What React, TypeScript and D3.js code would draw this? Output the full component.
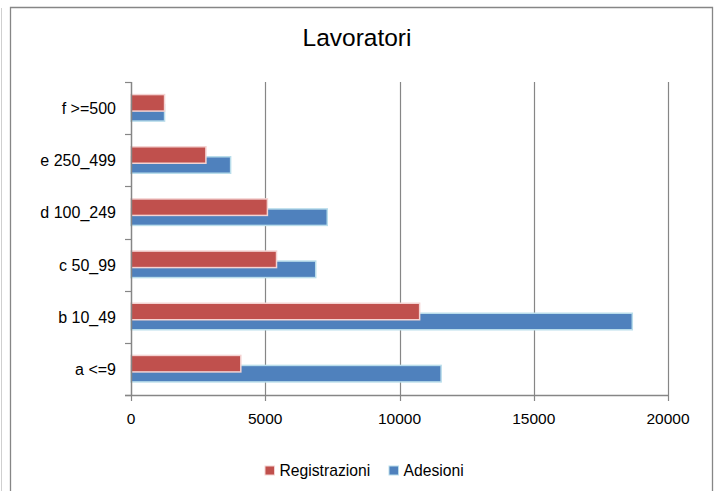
import React, { useEffect, useRef } from 'react';
import * as d3 from 'd3';

const categories = ['a <=9', 'b 10_49', 'c 50_99', 'd 100_249', 'e 250_499', 'f >=500'];
const registrazioni = [4090, 10750, 5420, 5080, 2790, 1250];
const adesioni = [11550, 18670, 6880, 7310, 3710, 1250];
const xTicks = [0, 5000, 10000, 15000, 20000];

const App: React.FC = () => {
  const svgRef = useRef<SVGSVGElement>(null);

  useEffect(() => {
    if (!svgRef.current) return;
    document.body.style.margin = '0';
    document.body.style.overflow = 'hidden';
    const svg = d3.select(svgRef.current);
    svg.selectAll('*').remove();

    const width = 717;
    const height = 491;
    const font = '"Liberation Sans", Arial, sans-serif';
    const axisColor = '#868686';

    svg.attr('width', width).attr('height', height);

    // outer frame
    svg.append('line')
      .attr('x1', 1.5).attr('x2', 1.5).attr('y1', 8).attr('y2', height)
      .attr('stroke', '#d0d0d0').attr('stroke-width', 1);
    svg.append('path')
      .attr('d', `M10.5,${height} V7.5 H712.5 V${height}`)
      .attr('fill', 'none').attr('stroke', axisColor).attr('stroke-width', 1.3);

    const x = d3.scaleLinear().domain([0, 20000]).range([131, 668]);
    // categories bottom to top
    const y = d3.scaleBand<string>()
      .domain([...categories].reverse())
      .range([82, 395]);

    // title
    svg.append('text')
      .attr('x', 357).attr('y', 46)
      .attr('text-anchor', 'middle')
      .attr('font-family', font).attr('font-size', 24.5)
      .attr('fill', '#000')
      .text('Lavoratori');

    // vertical gridlines
    svg.append('g')
      .selectAll('line')
      .data(xTicks.slice(1))
      .join('line')
      .attr('x1', (d) => Math.round(x(d)) + 0.5)
      .attr('x2', (d) => Math.round(x(d)) + 0.5)
      .attr('y1', 82).attr('y2', 395)
      .attr('stroke', axisColor).attr('stroke-width', 1.2);

    const barH = 16.5;
    const bars = svg.append('g');
    categories.forEach((c, i) => {
      const center = (y(c) as number) + y.bandwidth() / 2;
      // Adesioni (blue, lower) drawn first
      bars.append('rect')
        .attr('x', x(0))
        .attr('y', center - 3.5)
        .attr('width', x(adesioni[i]) - x(0))
        .attr('height', barH)
        .attr('fill', '#4F81BD')
        .attr('stroke', '#B9DDEB').attr('stroke-width', 1.5);
      bars.append('rect')
        .attr('x', x(0))
        .attr('y', center - 13.5)
        .attr('width', x(registrazioni[i]) - x(0))
        .attr('height', barH)
        .attr('fill', '#C0504D')
        .attr('stroke', '#F4D3D2').attr('stroke-width', 1.5);
    });

    // y axis
    const yAxis = svg.append('g');
    yAxis.append('line')
      .attr('x1', 131.5).attr('x2', 131.5).attr('y1', 82).attr('y2', 395)
      .attr('stroke', axisColor).attr('stroke-width', 1.5);
    const yTickPos = d3.range(categories.length + 1).map((k) => 82 + k * y.step());
    yAxis.selectAll('line.tick')
      .data(yTickPos)
      .join('line')
      .attr('class', 'tick')
      .attr('x1', 125).attr('x2', 131.5)
      .attr('y1', (d) => Math.round(d) + 0.5).attr('y2', (d) => Math.round(d) + 0.5)
      .attr('stroke', axisColor).attr('stroke-width', 1.2);
    yAxis.selectAll('text')
      .data(categories)
      .join('text')
      .attr('x', 116)
      .attr('y', (d) => (y(d) as number) + y.bandwidth() / 2 + 6)
      .attr('text-anchor', 'end')
      .attr('font-family', font).attr('font-size', 16)
      .attr('fill', '#000')
      .text((d) => d);

    // x axis
    const xAxis = svg.append('g');
    xAxis.append('line')
      .attr('x1', 125).attr('x2', 668.5).attr('y1', 395.5).attr('y2', 395.5)
      .attr('stroke', axisColor).attr('stroke-width', 1.5);
    xAxis.selectAll('line.tick')
      .data(xTicks)
      .join('line')
      .attr('class', 'tick')
      .attr('x1', (d) => Math.round(x(d)) + 0.5)
      .attr('x2', (d) => Math.round(x(d)) + 0.5)
      .attr('y1', 395).attr('y2', 401)
      .attr('stroke', axisColor).attr('stroke-width', 1.2);
    xAxis.selectAll('text')
      .data(xTicks)
      .join('text')
      .attr('x', (d) => x(d))
      .attr('y', 423.5)
      .attr('text-anchor', 'middle')
      .attr('font-family', font).attr('font-size', 15.5)
      .attr('fill', '#000')
      .text((d) => String(d));

    // legend
    const legendItems = [
      { label: 'Registrazioni', color: '#C0504D', border: '#F4D3D2', x: 265 },
      { label: 'Adesioni', color: '#4F81BD', border: '#B9DDEB', x: 389 },
    ];
    const legend = svg.append('g');
    legendItems.forEach((it) => {
      legend.append('rect')
        .attr('x', it.x).attr('y', 466)
        .attr('width', 9.5).attr('height', 9)
        .attr('fill', it.color)
        .attr('stroke', it.border).attr('stroke-width', 1);
      legend.append('text')
        .attr('x', it.x + 14.5).attr('y', 475.5)
        .attr('font-family', font).attr('font-size', 15.7)
        .attr('fill', '#000')
        .text(it.label);
    });
  }, []);

  return (
    <div>
      <svg ref={svgRef} style={{ display: 'block', position: 'absolute', left: 0, top: 0 }}></svg>
    </div>
  );
};

export default App;
